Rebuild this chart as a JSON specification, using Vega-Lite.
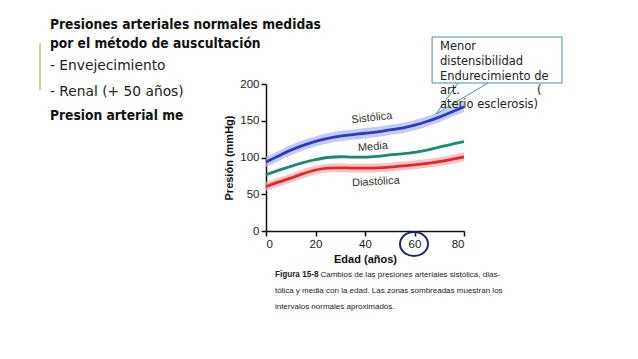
{
  "$schema": "https://vega.github.io/schema/vega-lite/v6.json",
  "width": 198,
  "height": 147,
  "autosize": "none",
  "padding": {"left": 266, "top": 84, "right": 174, "bottom": 128},
  "background": "white",
  "config": {
    "view": {"stroke": null},
    "axis": {
      "grid": false,
      "domainColor": "#111111",
      "domainWidth": 1.5,
      "tickColor": "#111111",
      "tickWidth": 1.5,
      "tickSize": 5,
      "labelFont": "Liberation Sans",
      "labelFontSize": 11.5,
      "labelColor": "#222222",
      "labelPadding": 2,
      "titleFont": "Liberation Sans",
      "titleFontSize": 11,
      "titleFontWeight": "bold",
      "titleColor": "#111111"
    }
  },
  "datasets": {
    "curves": [
      {"serie": "Sistólica", "edad": 0, "p": 94},
      {"serie": "Sistólica", "edad": 5, "p": 102},
      {"serie": "Sistólica", "edad": 10, "p": 110},
      {"serie": "Sistólica", "edad": 15, "p": 116.5},
      {"serie": "Sistólica", "edad": 20, "p": 122},
      {"serie": "Sistólica", "edad": 25, "p": 126},
      {"serie": "Sistólica", "edad": 30, "p": 129},
      {"serie": "Sistólica", "edad": 35, "p": 131},
      {"serie": "Sistólica", "edad": 40, "p": 133},
      {"serie": "Sistólica", "edad": 45, "p": 135},
      {"serie": "Sistólica", "edad": 50, "p": 137.5},
      {"serie": "Sistólica", "edad": 55, "p": 140},
      {"serie": "Sistólica", "edad": 60, "p": 144},
      {"serie": "Sistólica", "edad": 65, "p": 149},
      {"serie": "Sistólica", "edad": 70, "p": 155},
      {"serie": "Sistólica", "edad": 75, "p": 162},
      {"serie": "Sistólica", "edad": 80, "p": 169},
      {"serie": "Media", "edad": 0, "p": 76.5},
      {"serie": "Media", "edad": 5, "p": 82.5},
      {"serie": "Media", "edad": 10, "p": 88},
      {"serie": "Media", "edad": 15, "p": 93},
      {"serie": "Media", "edad": 20, "p": 97},
      {"serie": "Media", "edad": 25, "p": 100},
      {"serie": "Media", "edad": 30, "p": 101},
      {"serie": "Media", "edad": 35, "p": 100.5},
      {"serie": "Media", "edad": 40, "p": 100.5},
      {"serie": "Media", "edad": 45, "p": 101.5},
      {"serie": "Media", "edad": 50, "p": 103.5},
      {"serie": "Media", "edad": 55, "p": 105},
      {"serie": "Media", "edad": 60, "p": 107},
      {"serie": "Media", "edad": 65, "p": 110},
      {"serie": "Media", "edad": 70, "p": 114},
      {"serie": "Media", "edad": 75, "p": 118},
      {"serie": "Media", "edad": 80, "p": 121.5},
      {"serie": "Diastólica", "edad": 0, "p": 60.5},
      {"serie": "Diastólica", "edad": 5, "p": 66.5},
      {"serie": "Diastólica", "edad": 10, "p": 72},
      {"serie": "Diastólica", "edad": 15, "p": 78},
      {"serie": "Diastólica", "edad": 20, "p": 83},
      {"serie": "Diastólica", "edad": 25, "p": 85.5},
      {"serie": "Diastólica", "edad": 30, "p": 86},
      {"serie": "Diastólica", "edad": 35, "p": 85.5},
      {"serie": "Diastólica", "edad": 40, "p": 85.5},
      {"serie": "Diastólica", "edad": 45, "p": 86},
      {"serie": "Diastólica", "edad": 50, "p": 87},
      {"serie": "Diastólica", "edad": 55, "p": 88.5},
      {"serie": "Diastólica", "edad": 60, "p": 90},
      {"serie": "Diastólica", "edad": 65, "p": 92},
      {"serie": "Diastólica", "edad": 70, "p": 94.5},
      {"serie": "Diastólica", "edad": 75, "p": 97.5},
      {"serie": "Diastólica", "edad": 80, "p": 101}
    ],
    "bands": [
      {"serie": "Sistólica", "edad": 0, "lo": 87, "hi": 101},
      {"serie": "Sistólica", "edad": 5, "lo": 95, "hi": 109},
      {"serie": "Sistólica", "edad": 10, "lo": 103, "hi": 117},
      {"serie": "Sistólica", "edad": 15, "lo": 109.5, "hi": 123.5},
      {"serie": "Sistólica", "edad": 20, "lo": 115, "hi": 129},
      {"serie": "Sistólica", "edad": 25, "lo": 119, "hi": 133},
      {"serie": "Sistólica", "edad": 30, "lo": 122, "hi": 136},
      {"serie": "Sistólica", "edad": 35, "lo": 124, "hi": 138},
      {"serie": "Sistólica", "edad": 40, "lo": 126, "hi": 140},
      {"serie": "Sistólica", "edad": 45, "lo": 128, "hi": 142},
      {"serie": "Sistólica", "edad": 50, "lo": 130.5, "hi": 144.5},
      {"serie": "Sistólica", "edad": 55, "lo": 133, "hi": 147},
      {"serie": "Sistólica", "edad": 60, "lo": 137, "hi": 151},
      {"serie": "Sistólica", "edad": 65, "lo": 142, "hi": 156},
      {"serie": "Sistólica", "edad": 70, "lo": 148, "hi": 162},
      {"serie": "Sistólica", "edad": 75, "lo": 155, "hi": 169},
      {"serie": "Sistólica", "edad": 80, "lo": 162, "hi": 176},
      {"serie": "Diastólica", "edad": 0, "lo": 54.5, "hi": 66.5},
      {"serie": "Diastólica", "edad": 5, "lo": 60.5, "hi": 72.5},
      {"serie": "Diastólica", "edad": 10, "lo": 66, "hi": 78},
      {"serie": "Diastólica", "edad": 15, "lo": 72, "hi": 84},
      {"serie": "Diastólica", "edad": 20, "lo": 77, "hi": 89},
      {"serie": "Diastólica", "edad": 25, "lo": 79.5, "hi": 91.5},
      {"serie": "Diastólica", "edad": 30, "lo": 80, "hi": 92},
      {"serie": "Diastólica", "edad": 35, "lo": 79.5, "hi": 91.5},
      {"serie": "Diastólica", "edad": 40, "lo": 79.5, "hi": 91.5},
      {"serie": "Diastólica", "edad": 45, "lo": 80, "hi": 92},
      {"serie": "Diastólica", "edad": 50, "lo": 81, "hi": 93},
      {"serie": "Diastólica", "edad": 55, "lo": 82.5, "hi": 94.5},
      {"serie": "Diastólica", "edad": 60, "lo": 84, "hi": 96},
      {"serie": "Diastólica", "edad": 65, "lo": 86, "hi": 98},
      {"serie": "Diastólica", "edad": 70, "lo": 88.5, "hi": 100.5},
      {"serie": "Diastólica", "edad": 75, "lo": 91.5, "hi": 103.5},
      {"serie": "Diastólica", "edad": 80, "lo": 95, "hi": 107}
    ]
  },
  "resolve": {"scale": {"color": "independent", "angle": "independent"}, "axis": {"x": "independent", "y": "independent"}},
  "layer": [
    {
      "data": {"values": [{"x": -91.3, "y": 255.8, "y2": 191.8}]},
      "mark": {"type": "rule", "color": "#c9d49e", "strokeWidth": 2},
      "encoding": {
        "x": {"field": "x", "type": "quantitative", "scale": {"domain": [0, 80], "nice": false, "zero": false}, "axis": null},
        "y": {"field": "y", "type": "quantitative", "scale": {"domain": [0, 200], "nice": false, "zero": false}, "axis": null},
        "y2": {"field": "y2"}
      }
    },
    {
      "data": {"values": [
        {"x": -87.3, "y": 274.8, "t": "Presiones arteriales normales medidas"},
        {"x": -87.3, "y": 248.9, "t": "por el método de auscultación"}
      ]},
      "mark": {"type": "text", "align": "left", "baseline": "alphabetic", "font": "DejaVu Sans Condensed", "fontWeight": "bold", "fontSize": 13.7, "color": "#111111"},
      "encoding": {
        "x": {"field": "x", "type": "quantitative", "scale": {"domain": [0, 80], "nice": false, "zero": false}, "axis": null},
        "y": {"field": "y", "type": "quantitative", "scale": {"domain": [0, 200], "nice": false, "zero": false}, "axis": null},
        "text": {"field": "t"}
      }
    },
    {
      "data": {"values": [
        {"x": -87.3, "y": 219.0, "t": "- Envejecimiento"},
        {"x": -87.3, "y": 183.7, "t": "- Renal (+ 50 años)"}
      ]},
      "mark": {"type": "text", "align": "left", "baseline": "alphabetic", "font": "DejaVu Sans", "fontSize": 13.8, "color": "#222222", "limit": 134, "ellipsis": "\u200b"},
      "encoding": {
        "x": {"field": "x", "type": "quantitative", "scale": {"domain": [0, 80], "nice": false, "zero": false}, "axis": null},
        "y": {"field": "y", "type": "quantitative", "scale": {"domain": [0, 200], "nice": false, "zero": false}, "axis": null},
        "text": {"field": "t"}
      }
    },
    {
      "data": {"values": [
        {"x": -87.3, "y": 151.0, "t": "Presion arterial media"}
      ]},
      "mark": {"type": "text", "align": "left", "baseline": "alphabetic", "font": "DejaVu Sans Condensed", "fontWeight": "bold", "fontSize": 13.7, "color": "#111111", "limit": 137, "ellipsis": "\u200b"},
      "encoding": {
        "x": {"field": "x", "type": "quantitative", "scale": {"domain": [0, 80], "nice": false, "zero": false}, "axis": null},
        "y": {"field": "y", "type": "quantitative", "scale": {"domain": [0, 200], "nice": false, "zero": false}, "axis": null},
        "text": {"field": "t"}
      }
    },
    {
      "data": {"name": "bands"},
      "mark": {"type": "area", "interpolate": "monotone", "opacity": 0.7},
      "encoding": {
        "x": {"field": "edad", "type": "quantitative", "scale": {"domain": [0, 80], "nice": false, "zero": false}, "axis": null},
        "y": {"field": "lo", "type": "quantitative", "scale": {"domain": [0, 200], "nice": false, "zero": false}, "axis": null},
        "y2": {"field": "hi"},
        "color": {"field": "serie", "type": "nominal", "scale": {"domain": ["Sistólica", "Diastólica"], "range": ["#aeb4f0", "#f6adad"]}, "legend": null}
      }
    },
    {
      "data": {"name": "curves"},
      "mark": {"type": "line", "interpolate": "monotone", "strokeWidth": 2.8},
      "encoding": {
        "x": {"field": "edad", "type": "quantitative", "title": "Edad (años)", "scale": {"domain": [0, 80], "nice": false, "zero": false}, "axis": {"values": [0, 20, 40, 60, 80], "titlePadding": 4}},
        "y": {"field": "p", "type": "quantitative", "title": "Presión (mmHg)", "scale": {"domain": [0, 200], "nice": false, "zero": false}, "axis": {"values": [0, 50, 100, 150, 200], "titlePadding": 5}},
        "color": {"field": "serie", "type": "nominal", "scale": {"domain": ["Sistólica", "Media", "Diastólica"], "range": ["#2a3cc2", "#1b8a70", "#e2262b"]}, "legend": null}
      }
    },
    {
      "data": {"values": [
        {"x": 42.8, "y": 153.7, "t": "Sistólica"},
        {"x": 43.2, "y": 114.3, "t": "Media"},
        {"x": 44.4, "y": 66.7, "t": "Diastólica"}
      ]},
      "mark": {"type": "text", "align": "center", "baseline": "middle", "font": "Liberation Sans", "fontSize": 11, "color": "#333333"},
      "encoding": {
        "x": {"field": "x", "type": "quantitative", "scale": {"domain": [0, 80], "nice": false, "zero": false}, "axis": null},
        "y": {"field": "y", "type": "quantitative", "scale": {"domain": [0, 200], "nice": false, "zero": false}, "axis": null},
        "text": {"field": "t"},
        "angle": {"field": "t", "type": "nominal", "scale": {"domain": ["Sistólica", "Media", "Diastólica"], "range": [354, 357, 358]}, "legend": null}
      }
    },
    {
      "data": {"values": [{"x": 59.8, "y": -17.7}]},
      "mark": {"type": "point", "shape": "M-1,0A1,0.85,0,1,1,1,0A1,0.85,0,1,1,-1,0Z", "size": 784, "filled": false, "stroke": "#1d2b5e", "strokeWidth": 2, "opacity": 1},
      "encoding": {
        "x": {"field": "x", "type": "quantitative", "scale": {"domain": [0, 80], "nice": false, "zero": false}, "axis": null},
        "y": {"field": "y", "type": "quantitative", "scale": {"domain": [0, 200], "nice": false, "zero": false}, "axis": null}
      }
    },
    {
      "data": {"values": [{"x": 67.1, "x2": 119.6, "y": 263.9, "y2": 201.4}]},
      "mark": {"type": "rect", "fill": "white", "stroke": "#4a8fa8", "strokeWidth": 1},
      "encoding": {
        "x": {"field": "x", "type": "quantitative", "scale": {"domain": [0, 80], "nice": false, "zero": false}, "axis": null},
        "x2": {"field": "x2"},
        "y": {"field": "y", "type": "quantitative", "scale": {"domain": [0, 200], "nice": false, "zero": false}, "axis": null},
        "y2": {"field": "y2"}
      }
    },
    {
      "data": {"values": [
        {"x": 77.6, "y": 201.4, "x2": 68.7, "y2": 159.2},
        {"x": 89.7, "y": 201.4, "x2": 68.7, "y2": 159.2}
      ]},
      "mark": {"type": "rule", "color": "#4a8fa8", "strokeWidth": 1},
      "encoding": {
        "x": {"field": "x", "type": "quantitative", "scale": {"domain": [0, 80], "nice": false, "zero": false}, "axis": null},
        "x2": {"field": "x2"},
        "y": {"field": "y", "type": "quantitative", "scale": {"domain": [0, 200], "nice": false, "zero": false}, "axis": null},
        "y2": {"field": "y2"}
      }
    },
    {
      "data": {"values": [
        {"x": 70.3, "y": 251.0, "t": "Menor"},
        {"x": 70.3, "y": 230.6, "t": "distensibilidad"},
        {"x": 70.3, "y": 210.2, "t": "Endurecimiento de"},
        {"x": 70.3, "y": 189.8, "t": "art."},
        {"x": 109.5, "y": 189.8, "t": "("},
        {"x": 70.3, "y": 172.0, "t": "aterio esclerosis)"}
      ]},
      "mark": {"type": "text", "align": "left", "baseline": "middle", "font": "DejaVu Sans", "fontSize": 11.5, "color": "#222222"},
      "encoding": {
        "x": {"field": "x", "type": "quantitative", "scale": {"domain": [0, 80], "nice": false, "zero": false}, "axis": null},
        "y": {"field": "y", "type": "quantitative", "scale": {"domain": [0, 200], "nice": false, "zero": false}, "axis": null},
        "text": {"field": "t"}
      }
    },
    {
      "data": {"values": [
        {"x": 3.6, "y": -59.9, "t": "Figura 15-8"}
      ]},
      "mark": {"type": "text", "align": "left", "baseline": "middle", "font": "Liberation Sans", "fontWeight": "bold", "fontSize": 8.2, "color": "#222222"},
      "encoding": {
        "x": {"field": "x", "type": "quantitative", "scale": {"domain": [0, 80], "nice": false, "zero": false}, "axis": null},
        "y": {"field": "y", "type": "quantitative", "scale": {"domain": [0, 200], "nice": false, "zero": false}, "axis": null},
        "text": {"field": "t"}
      }
    },
    {
      "data": {"values": [
        {"x": 22.0, "y": -59.9, "t": "Cambios de las presiones arteriales sistólica, dias-"},
        {"x": 3.6, "y": -81.6, "t": "tólica y media con la edad. Las zonas sombreadas muestran los"},
        {"x": 3.6, "y": -103.4, "t": "intervalos normales aproximados."}
      ]},
      "mark": {"type": "text", "align": "left", "baseline": "middle", "font": "Liberation Sans", "fontSize": 8.0, "color": "#222222"},
      "encoding": {
        "x": {"field": "x", "type": "quantitative", "scale": {"domain": [0, 80], "nice": false, "zero": false}, "axis": null},
        "y": {"field": "y", "type": "quantitative", "scale": {"domain": [0, 200], "nice": false, "zero": false}, "axis": null},
        "text": {"field": "t"}
      }
    }
  ]
}
